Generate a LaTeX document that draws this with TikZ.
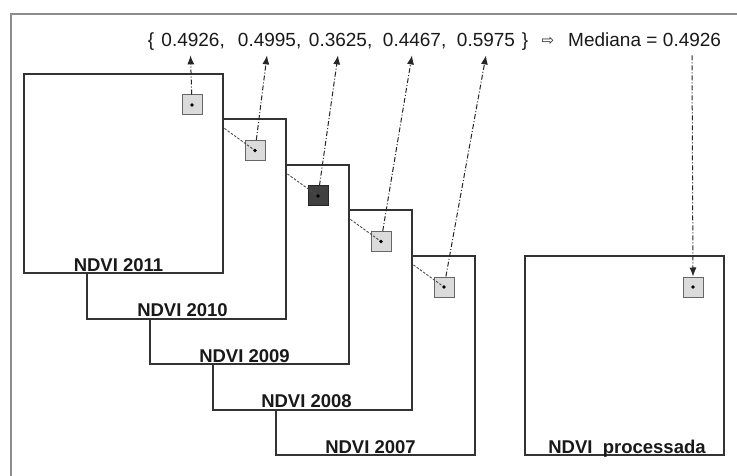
\documentclass[tikz,border=0pt]{standalone}
\usepackage{fontspec}
\setmainfont{Liberation Sans}
\newfontfamily\symfont{DejaVu Sans}
\usetikzlibrary{positioning,calc,arrows.meta}

\begin{document}
\begin{tikzpicture}[x=1pt, y=-1pt,
        frame/.style={draw=black!45, line width=2pt},
        layer/.style={rectangle, draw=black!80, line width=2pt, fill=white, minimum width=199pt, minimum height=199pt, inner sep=0pt},
        pix/.style={rectangle, draw=black!60, line width=1pt, fill=black!14, minimum size=20pt, inner sep=0pt, path picture={\fill[black] (path picture bounding box.center) circle (1.9pt);}},
        darkpix/.style={pix, fill=black!75, draw=black!85},
        title/.style={font=\fontsize{18.5}{22}\selectfont\bfseries, inner sep=0pt, anchor=base, text=black!90},
        val/.style={font=\fontsize{19}{23}\selectfont, inner xsep=0pt, inner ysep=8pt, anchor=base, text=black!90},
        link/.style={draw=black!70, line width=0.9pt, dash pattern=on 2.5pt off 1.5pt},
        arrow/.style={-{Latex[length=9pt,width=7pt]}, draw=black!85, line width=1pt, dash pattern=on 5pt off 2pt on 1pt off 2pt},
      ]
      \useasboundingbox (0,0) rectangle (737,476);
      \fill[white] (0,0) rectangle (737,476);
      \draw[frame] (11,476) -- (11,14) -- (737,14);
      \coordinate (c11) at (192,105);
      \coordinate (c10) at (255,150.5);
      \coordinate (c09) at (318,196);
      \coordinate (c08) at (381,241.5);
      \coordinate (c07) at (444,287);
      \node [layer] (b07) at (375.5,355.5) {};
      \node [pix] (p07) at (c07) {};
      \draw [link, shorten >=1.5pt] (c08) -- (p07.center);
      \node [layer] (b08) at (312.5,310) {};
      \node [pix] (p08) at (c08) {};
      \draw [link, shorten >=1.5pt] (c09) -- (p08.center);
      \node [layer] (b09) at (249.5,264.5) {};
      \node [darkpix] (p09) at (c09) {};
      \draw [link, shorten >=1.5pt] (c10) -- (p09.center);
      \node [layer] (b10) at (186.5,219) {};
      \node [pix] (p10) at (c10) {};
      \draw [link, shorten >=1.5pt] (c11) -- (p10.center);
      \node [layer] (b11) at (123.5,173.5) {};
      \node [pix] (p11) at (c11) {};
      \node [layer] (bp) at (624.5,355.5) {};
      \node [pix] (pp) at (693,287) {};
      \node [title] (t11) at ([xshift=-5pt, yshift=3pt]b11.south) {NDVI 2011};
      \node [title] (t10) at ([xshift=-4pt, yshift=3pt]b10.south) {NDVI 2010};
      \node [title] (t09) at ([xshift=-5pt, yshift=3pt]b09.south) {NDVI 2009};
      \node [title] (t08) at ([xshift=-6pt, yshift=3pt]b08.south) {NDVI 2008};
      \node [title] (t07) at ([xshift=-5pt, yshift=3pt]b07.south) {NDVI 2007};
      \node [title] (tp) at ([xshift=2.5pt, yshift=3pt]bp.south) {NDVI\ \ processada};
      \node [val] (open) at (151,47) {\{};
      \node [val] (v1) at (190.5,47) {0.4926\smash{\rlap{,}}};
      \node [val] (v2) at (267,47) {0.4995\smash{\rlap{,}}};
      \node [val] (v3) at (338,47) {0.3625\smash{\rlap{,}}};
      \node [val] (v4) at (412,47) {0.4467\smash{\rlap{,}}};
      \node [val] (v5) at (486,47) {0.5975};
      \node [val] (close) at (525,47) {\}};
      \node [inner sep=0pt, font=\symfont\fontsize{15}{17}\selectfont, text=black!85] (imp) at (548,41) {⇨};
      \node [val, anchor=base west] (med) at (568,47) {Mediana =};
      \node [val] (mv) at (692,47) {0.4926};
      \draw [arrow] (p11) -- (v1.south);
      \draw [arrow] (p10) -- (v2.south);
      \draw [arrow] (p09) -- (v3.south);
      \draw [arrow] (p08) -- (v4.south);
      \draw [arrow] (p07) -- (v5.south);
      \draw [arrow] (mv.south) -- (pp.north);
    \end{tikzpicture}
\end{document}
